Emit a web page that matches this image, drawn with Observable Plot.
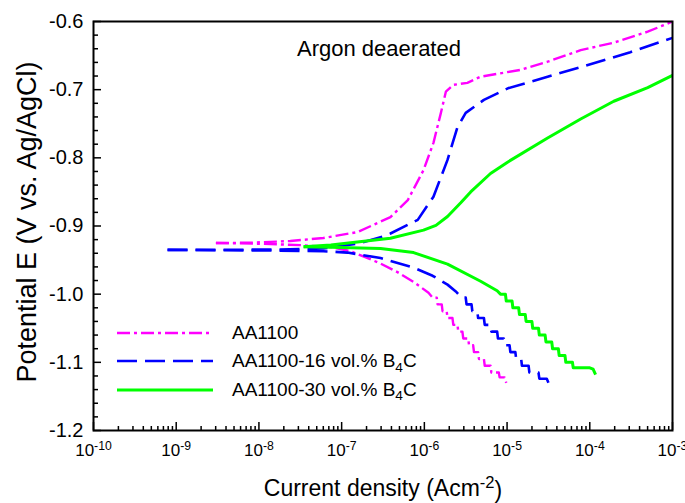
<!DOCTYPE html>
<html><head><meta charset="utf-8">
<script src="https://cdn.jsdelivr.net/npm/d3@7"></script>
<script src="https://cdn.jsdelivr.net/npm/@observablehq/plot@0.6"></script>
<style>
body{margin:0;background:#fff;}
#wrap{position:relative;width:685px;height:503px;font-family:"Liberation Sans",Arial,sans-serif;}
#legend{position:absolute;left:117px;top:319px;font-size:19px;color:#000;}
.row{display:flex;align-items:center;height:28.3px;white-space:nowrap;}
.row svg{width:96px;height:6px;margin-right:19px;flex:none;}
.sub{font-size:0.72em;position:relative;top:0.3em;}
</style></head><body><div id="wrap"><div id="legend"></div></div>
<script>
// ---- data (log10 of current density in A/cm², potential in V vs Ag/AgCl) ----
const seriesNames = ["AA1100", "AA1100-16 vol.% B4C", "AA1100-30 vol.% B4C"];
const seriesColors = ["#ff00ff", "#0000ff", "#00ff00"];

const aa1100CathodicLogI = [-8.52,-8.0,-7.5,-7.13,-6.89,-6.73,-6.53,-6.32,-6.13,-5.95,-5.90,-5.85,-5.84,-5.79,-5.78,-5.73,-5.72,-5.66,-5.65,-5.60,-5.59,-5.54,-5.53,-5.47,-5.46,-5.41,-5.40,-5.35,-5.34,-5.28,-5.27,-5.20,-5.19,-5.10,-5.09,-5.03,-5.01];
const aa1100CathodicE    = [-0.925,-0.926,-0.928,-0.931,-0.937,-0.945,-0.955,-0.968,-0.982,-0.998,-1.005,-1.005,-1.015,-1.015,-1.025,-1.025,-1.035,-1.035,-1.045,-1.045,-1.055,-1.055,-1.065,-1.065,-1.075,-1.075,-1.085,-1.085,-1.095,-1.095,-1.105,-1.105,-1.115,-1.115,-1.122,-1.122,-1.130];
const aa1100AnodicLogI   = [-8.52,-8.10,-7.62,-7.22,-6.81,-6.41,-6.20,-6.01,-5.89,-5.80,-5.74,-5.65,-5.48,-5.32,-4.84,-4.51,-4.11,-3.71,-3.30,-3.00];
const aa1100AnodicE      = [-0.925,-0.9245,-0.922,-0.9176,-0.909,-0.887,-0.862,-0.818,-0.778,-0.734,-0.703,-0.693,-0.690,-0.681,-0.671,-0.659,-0.642,-0.631,-0.615,-0.600];

const b16CathodicLogI = [-9.105,-8.5,-7.8,-7.22,-6.93,-6.53,-6.13,-5.90,-5.72,-5.62,-5.55,-5.50,-5.49,-5.43,-5.42,-5.36,-5.35,-5.28,-5.27,-5.20,-5.19,-5.12,-5.11,-5.04,-5.03,-4.97,-4.96,-4.90,-4.89,-4.83,-4.82,-4.74,-4.73,-4.62,-4.61,-4.52,-4.50];
const b16CathodicE    = [-0.935,-0.9355,-0.936,-0.937,-0.939,-0.947,-0.961,-0.973,-0.986,-0.996,-1.005,-1.005,-1.015,-1.015,-1.025,-1.025,-1.035,-1.035,-1.045,-1.045,-1.055,-1.055,-1.065,-1.065,-1.075,-1.075,-1.085,-1.085,-1.095,-1.095,-1.105,-1.105,-1.115,-1.115,-1.124,-1.124,-1.130];
const b16AnodicLogI   = [-9.105,-8.5,-7.8,-7.22,-6.81,-6.49,-6.41,-6.08,-5.89,-5.72,-5.60,-5.50,-5.28,-4.99,-4.51,-4.11,-3.51,-3.00];
const b16AnodicE      = [-0.935,-0.935,-0.9345,-0.933,-0.926,-0.915,-0.911,-0.891,-0.857,-0.803,-0.755,-0.734,-0.715,-0.698,-0.681,-0.667,-0.645,-0.624];

const b30CathodicLogI = [-7.46,-7.13,-6.53,-6.13,-5.72,-5.32,-5.12,-5.08,-5.02,-5.01,-4.94,-4.93,-4.86,-4.85,-4.78,-4.77,-4.70,-4.69,-4.62,-4.61,-4.54,-4.53,-4.46,-4.45,-4.38,-4.37,-4.30,-4.29,-4.21,-4.20,-4.00,-3.96,-3.93];
const b30CathodicE    = [-0.9305,-0.931,-0.933,-0.939,-0.956,-0.981,-0.995,-1.000,-1.000,-1.010,-1.010,-1.020,-1.020,-1.030,-1.030,-1.040,-1.040,-1.050,-1.050,-1.060,-1.060,-1.070,-1.070,-1.080,-1.080,-1.090,-1.090,-1.100,-1.100,-1.108,-1.108,-1.110,-1.118];
const b30AnodicLogI   = [-7.46,-7.13,-6.81,-6.41,-6.01,-5.86,-5.72,-5.56,-5.44,-5.20,-4.99,-4.51,-4.11,-3.71,-3.30,-3.00];
const b30AnodicE      = [-0.9305,-0.928,-0.9234,-0.918,-0.906,-0.899,-0.886,-0.866,-0.850,-0.823,-0.806,-0.771,-0.743,-0.717,-0.697,-0.679];

// ---- axis ticks ----
const xTickExponents = [-10,-9,-8,-7,-6,-5,-4,-3];
const xMinorMultipliers = [2,3,4,5,6,7,8,9];
const yMajorTicks = [-1.2,-1.1,-1.0,-0.9,-0.8,-0.7,-0.6];
const yMinorTicks = [-1.18,-1.16,-1.14,-1.12,-1.08,-1.06,-1.04,-1.02,-0.98,-0.96,-0.94,-0.92,-0.88,-0.86,-0.84,-0.82,-0.78,-0.76,-0.74,-0.72,-0.68,-0.66,-0.64,-0.62];

// ---- build table ----
function rows(series, branch, logI, E) {
  return logI.map((v, i) => ({series, branch, i: 10 ** v, E: E[i]}));
}
const data = [
  ...rows(seriesNames[0], "c", aa1100CathodicLogI, aa1100CathodicE),
  ...rows(seriesNames[0], "a", aa1100AnodicLogI, aa1100AnodicE),
  ...rows(seriesNames[1], "c", b16CathodicLogI, b16CathodicE),
  ...rows(seriesNames[1], "a", b16AnodicLogI, b16AnodicE),
  ...rows(seriesNames[2], "c", b30CathodicLogI, b30CathodicE),
  ...rows(seriesNames[2], "a", b30AnodicLogI, b30AnodicE)
];
const xMajor = xTickExponents.map(e => 10 ** e);
const xMinor = xTickExponents.slice(0, -1).flatMap(e => xMinorMultipliers.map(m => m * 10 ** e));

const W = 685, H = 503, mL = 93, mR = 13, mT = 21, mB = 73;
const fw = W - mL - mR, fh = H - mT - mB;
const styles = [
  {stroke: seriesColors[0], strokeWidth: 2.4, strokeDasharray: "13,4,3,4"},
  {stroke: seriesColors[1], strokeWidth: 2.6, strokeDasharray: "20,8"},
  {stroke: seriesColors[2], strokeWidth: 3}
];
const xTitle = "Current density (Acm";
const yTitle = "Potential E (V vs. Ag/AgCl)";

const chart = Plot.plot({
  width: W, height: H,
  marginLeft: mL, marginRight: mR, marginTop: mT, marginBottom: mB,
  style: {fontFamily: '"Liberation Sans", Arial, sans-serif', background: "#fff", color: "#000"},
  x: {type: "log", domain: [1e-10, 1e-3]},
  y: {domain: [-1.2, -0.6]},
  marks: [
    ...seriesNames.map((s, k) => Plot.line(data.filter(d => d.series === s), {
      x: "i", y: "E", z: "branch", ...styles[k], strokeLinejoin: "round", strokeLinecap: "butt", curve: "linear"
    })),
    Plot.tickX(xMinor, {x: d => d, insetTop: fh - 4, stroke: "#000", strokeWidth: 1.5}),
    Plot.tickX(xMajor, {x: d => d, insetTop: fh - 8, stroke: "#000", strokeWidth: 1.5}),
    Plot.tickY(yMinorTicks, {y: d => d, insetRight: fw - 5, stroke: "#000", strokeWidth: 1.5}),
    Plot.tickY(yMajorTicks, {y: d => d, insetRight: fw - 8, stroke: "#000", strokeWidth: 1.5}),
    Plot.axisX({ticks: xMajor, tickSize: 0, tickPadding: 13, fontSize: 17, label: null,
      tickFormat: d => String(Math.round(Math.log10(d)))}),
    Plot.axisY({ticks: yMajorTicks, tickSize: 0, tickPadding: 10, fontSize: 20, label: null,
      tickFormat: d => d.toFixed(1)}),
    Plot.frame({stroke: "#000", strokeWidth: 2}),
    Plot.text(["Argon deaerated"], {frameAnchor: "top", dy: 19, dx: -4, fontSize: 22, fill: "#000"}),
    Plot.text([xTitle], {frameAnchor: "bottom", textAnchor: "middle", dy: 65, fontSize: 23, fill: "#000"}),
    Plot.text([yTitle], {frameAnchor: "left", textAnchor: "middle", dx: -66, dy: -4, rotate: -90, fontSize: 27, fill: "#000"})
  ]
});

// superscripts on tick labels
d3.select(chart).selectAll('g[aria-label="x-axis tick label"] text').each(function() {
  const exp = this.textContent;
  const t = d3.select(this);
  t.text(null);
  t.append("tspan").text("10");
  t.append("tspan").attr("dy", "-0.45em").attr("font-size", "0.72em").text(exp);
});
d3.select(chart).selectAll("text").filter(function() { return this.textContent === xTitle; }).each(function() {
  const t = d3.select(this);
  t.append("tspan").attr("dy", "-0.45em").attr("font-size", "0.72em").text("-2");
  t.append("tspan").attr("dy", "0.45em").text(")");
});

const wrap = document.getElementById("wrap");
wrap.insertBefore(chart, wrap.firstChild);

// legend
const legendLabels = [["AA1100", ""], ["AA1100-16 vol.% B", "C"], ["AA1100-30 vol.% B", "C"]];
const legend = document.getElementById("legend");
seriesNames.forEach((s, k) => {
  const row = document.createElement("div");
  row.className = "row";
  const st = styles[k];
  row.innerHTML = `<svg viewBox="0 0 96 6"><line x1="0" x2="96" y1="3" y2="3" stroke="${st.stroke}" stroke-width="${st.strokeWidth}" ${st.strokeDasharray ? `stroke-dasharray="${st.strokeDasharray}"` : ""}/></svg>` +
    `<span>${legendLabels[k][0]}${legendLabels[k][1] ? '<span class="sub">4</span>' + legendLabels[k][1] : ""}</span>`;
  legend.appendChild(row);
});
</script></body></html>
